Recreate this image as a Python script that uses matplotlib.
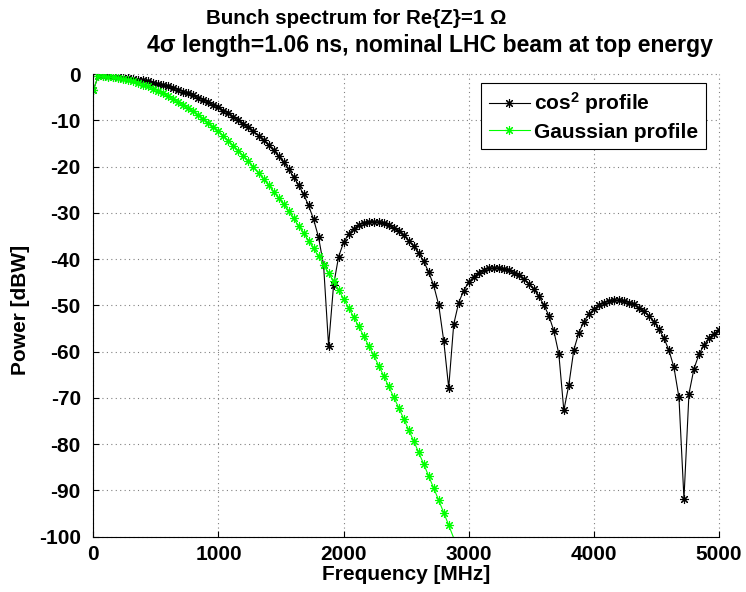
import numpy as np
import matplotlib as mpl
import matplotlib.pyplot as plt

# spectral lines every 40 MHz (25 ns bunch spacing), power in dBW for Re{Z}=1 Ohm
line_spacing_mhz = 40

power_cos2 = [
    -3.5, -0.4, -0.4, -0.5, -0.6, -0.7, -0.8, -0.9, -1.1, -1.2,
    -1.4, -1.6, -1.9, -2.1, -2.4, -2.7, -3.1, -3.4, -3.8, -4.2,
    -4.6, -5.1, -5.6, -6.1, -6.7, -7.2, -7.9, -8.5, -9.2, -9.9,
    -10.7, -11.5, -12.4, -13.3, -14.3, -15.4, -16.5, -17.8, -19.1, -20.6,
    -22.2, -24.0, -26.0, -28.4, -31.4, -35.3, -41.3, -58.7, -45.6, -39.5,
    -36.4, -34.6, -33.4, -32.6, -32.1, -31.9, -31.9, -32.0, -32.3, -32.7,
    -33.3, -34.0, -34.9, -36.0, -37.2, -38.7, -40.5, -42.8, -45.7, -49.9,
    -57.6, -67.8, -54.1, -49.4, -46.8, -45.0, -43.8, -42.9, -42.4, -42.0,
    -41.9, -41.9, -42.1, -42.4, -42.9, -43.5, -44.3, -45.3, -46.5, -48.0,
    -49.9, -52.2, -55.5, -60.5, -72.7, -67.2, -59.6, -55.9, -53.5, -51.9,
    -50.8, -50.0, -49.4, -49.1, -48.9, -48.9, -49.1, -49.4, -49.8, -50.5,
    -51.3, -52.3, -53.5, -55.1, -57.1, -59.7, -63.4, -69.9, -91.8, -69.1,
    -63.7, -60.6, -58.6, -57.1, -56.1, -55.3,
]

power_gauss = [
    -3.5, -0.4, -0.5, -0.6, -0.7, -0.9, -1.1, -1.3, -1.6, -2.0,
    -2.3, -2.7, -3.2, -3.7, -4.2, -4.7, -5.3, -6.0, -6.6, -7.4,
    -8.1, -8.9, -9.7, -10.6, -11.5, -12.4, -13.4, -14.4, -15.5, -16.6,
    -17.7, -18.9, -20.1, -21.4, -22.7, -24.0, -25.4, -26.8, -28.2, -29.7,
    -31.2, -32.8, -34.4, -36.0, -37.7, -39.4, -41.2, -43.0, -44.8, -46.7,
    -48.6, -50.5, -52.5, -54.5, -56.6, -58.7, -60.8, -63.0, -65.2, -67.5,
    -69.8, -72.1, -74.5, -76.9, -79.3, -81.8, -84.3, -86.9, -89.5, -92.1,
    -94.8, -97.5, -100.3, -103.1,
]

freq_cos2 = np.arange(len(power_cos2)) * line_spacing_mhz
freq_gauss = np.arange(len(power_gauss)) * line_spacing_mhz

ymin, ymax = -100, 0

settings = {"font.family": ["Liberation Sans", "DejaVu Sans"],
            "font.weight": "bold",
            "font.size": 15,
            "mathtext.fontset": "custom",
            "mathtext.rm": "Liberation Sans:bold",
            "mathtext.bf": "Liberation Sans:bold",
            "mathtext.default": "bf",
            "axes.unicode_minus": False,
            "axes.linewidth": 0.8,
            }
mpl.rcParams.update(settings)

fig = plt.figure(figsize=(7.46, 5.92), dpi=100)
ax = fig.add_axes([0.1251, 0.0934, 0.8387, 0.7816])

star = (8, 2, 0)
ax.plot(freq_cos2, power_cos2, color='black', linewidth=0.8,
        marker=star, markersize=6.5, markeredgewidth=0.8,
        label=r'cos$^2$ profile')

visible = [i for i, p in enumerate(power_gauss) if p >= ymin]
ax.plot(freq_gauss, power_gauss, color=(0, 1, 0), linewidth=0.8,
        marker=star, markersize=6.5, markeredgewidth=0.8, markevery=visible,
        label='Gaussian profile')

ax.set_xlim(0, 5000)
ax.set_ylim(ymin, ymax)
ax.set_xticks(np.arange(0, 5001, 1000))
ax.set_yticks(np.arange(-100, 1, 10))

ax.spines['top'].set_visible(False)
ax.spines['right'].set_visible(False)
ax.tick_params(direction='in', length=4, width=0.8, labelsize=15)
ax.tick_params(axis='y', pad=9)
ax.tick_params(axis='x', pad=6)
ax.grid(True, color='0.5', linestyle=(0, (1, 3)), linewidth=0.8)
for gl in ax.get_xgridlines() + ax.get_ygridlines():
    gl.set_clip_on(False)

ax.set_xlabel('Frequency [MHz]', fontsize=15, fontweight='bold', va='top')
ax.xaxis.set_label_coords(0.5, -0.061)
ax.set_ylabel('Power [dBW]', fontsize=15, fontweight='bold')
ax.yaxis.set_label_coords(-0.102, 0.49)

leg = ax.legend(loc='upper right', bbox_to_anchor=(0.979, 0.980),
                borderaxespad=0, fancybox=False, framealpha=1,
                edgecolor='black', fontsize=15, handlelength=2.0,
                handletextpad=0.2, labelspacing=0.3, borderpad=0.35)
leg.get_frame().set_linewidth(0.8)

fig.text(206 / 746, 1 - 24 / 592, u'Bunch spectrum for Re{Z}=1 \u03a9',
         fontsize=14.8, fontweight='bold', ha='left', va='baseline')
fig.text(147 / 746, 1 - 52 / 592,
         u'4\u03c3 length=1.06 ns, nominal LHC beam at top energy',
         fontsize=16.6, fontweight='bold', ha='left', va='baseline')

plt.savefig('out.png', dpi=100)
